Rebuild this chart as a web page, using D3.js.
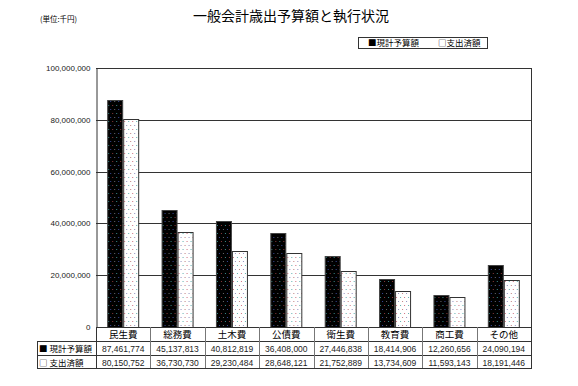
<!DOCTYPE html>
<html>
<head>
<meta charset="utf-8">
<script src="https://cdn.jsdelivr.net/npm/d3@7"></script>
<style>
  body { margin: 0; background: #fff; }
  svg { display: block; font-family: "Noto Sans CJK JP", "Liberation Sans", sans-serif; }
</style>
</head>
<body>
<div id="chart"></div>
<script>
// chart data
const categories = ['民生費', '総務費', '土木費', '公債費', '衛生費', '教育費', '商工費', 'その他'];
const seriesNames = ['現計予算額', '支出済額'];
const budget = [87461774, 45137813, 40812819, 36408000, 27446838, 18414906, 12260656, 24090194];
const spent = [80150752, 36730730, 29230484, 28648121, 21752889, 13734609, 11593143, 18191446];
const yTicks = [0, 20000000, 40000000, 60000000, 80000000, 100000000];

const W = 578, H = 386;
const plot = { left: 96, right: 531, top: 68, bottom: 327 };

const svg = d3.select('#chart').append('svg')
    .attr('width', W)
    .attr('height', H);

// dotted fills like the old spreadsheet bitmaps
const defs = svg.append('defs');
const darkPat = defs.append('pattern')
    .attr('id', 'pat-dark')
    .attr('patternUnits', 'userSpaceOnUse')
    .attr('width', 8).attr('height', 8);
darkPat.append('rect').attr('width', 8).attr('height', 8).attr('fill', '#000');
[[1, 1, '#3a8a8a'], [5, 1, '#8a3a3a'], [3, 5, '#3a4a9a'], [7, 5, '#6a6a6a']].forEach(([x, y, c]) => {
    darkPat.append('rect').attr('x', x).attr('y', y).attr('width', 1).attr('height', 1).attr('fill', c);
});
const lightPat = defs.append('pattern')
    .attr('id', 'pat-light')
    .attr('patternUnits', 'userSpaceOnUse')
    .attr('width', 8).attr('height', 8);
lightPat.append('rect').attr('width', 8).attr('height', 8).attr('fill', '#fff');
[[1, 1, '#d07080'], [5, 1, '#60b0b0'], [3, 5, '#9090c0'], [7, 5, '#c08080']].forEach(([x, y, c]) => {
    lightPat.append('rect').attr('x', x).attr('y', y).attr('width', 1).attr('height', 1).attr('fill', c);
});

// title + unit
svg.append('text')
    .attr('x', 291).attr('y', 21)
    .attr('text-anchor', 'middle')
    .attr('font-size', '14px')
    .attr('fill', '#000')
    .text('一般会計歳出予算額と執行状況');

svg.append('text')
    .attr('x', 40).attr('y', 22)
    .attr('font-size', '7.5px')
    .attr('fill', '#000')
    .text('(単位:千円)');

// scales
const x0 = d3.scaleBand()
    .domain(categories)
    .range([plot.left, plot.right]);

const x1 = d3.scaleBand()
    .domain(seriesNames)
    .range([0, 32]);

const y = d3.scaleLinear()
    .domain([0, 100000000])
    .range([plot.bottom, plot.top]);

// gridlines
svg.append('g')
    .selectAll('line')
    .data(yTicks.filter(d => d > 0))
    .join('line')
        .attr('x1', plot.left).attr('x2', plot.right)
        .attr('y1', d => Math.round(y(d)) + 0.5)
        .attr('y2', d => Math.round(y(d)) + 0.5)
        .attr('stroke', '#333')
        .attr('stroke-width', 1);

// y axis
const yAxis = svg.append('g')
    .attr('transform', `translate(${plot.left + 0.5},0)`)
    .call(d3.axisLeft(y).tickValues(yTicks).tickSize(0).tickPadding(6)
        .tickFormat(d3.format(',')));
yAxis.select('.domain').attr('stroke', '#333');
yAxis.selectAll('text')
    .attr('font-size', '8px')
    .attr('font-family', 'Liberation Sans, sans-serif')
    .attr('fill', '#222');

// right border
svg.append('line')
    .attr('x1', plot.right + 0.5).attr('x2', plot.right + 0.5)
    .attr('y1', plot.top).attr('y2', plot.bottom)
    .attr('stroke', '#333');

// bars
const groups = svg.append('g')
    .selectAll('g')
    .data(categories)
    .join('g')
        .attr('transform', d => `translate(${x0(d) + x0.bandwidth() / 2 - 16},0)`);

groups.selectAll('rect')
    .data((d, i) => [
        { key: seriesNames[0], value: budget[i] },
        { key: seriesNames[1], value: spent[i] }
    ])
    .join('rect')
        .attr('x', d => x1(d.key) + 0.5)
        .attr('y', d => Math.round(y(d.value)) + 0.5)
        .attr('width', x1.bandwidth() - 1)
        .attr('height', d => plot.bottom - Math.round(y(d.value)))
        .attr('fill', d => d.key === seriesNames[0] ? 'url(#pat-dark)' : 'url(#pat-light)')
        .attr('stroke', d => d.key === seriesNames[0] ? '#444' : '#333')
        .attr('stroke-width', 1);

// data table under the chart
const rowTops = [327, 341, 355, 368];
const labelLeft = 37;
const table = svg.append('g');

// horizontal rules
table.append('line')
    .attr('x1', plot.left).attr('x2', plot.right)
    .attr('y1', rowTops[0] + 0.5).attr('y2', rowTops[0] + 0.5)
    .attr('stroke', '#333');
rowTops.slice(1).forEach(t => {
    table.append('line')
        .attr('x1', labelLeft).attr('x2', plot.right)
        .attr('y1', t + 0.5).attr('y2', t + 0.5)
        .attr('stroke', '#333');
});

// vertical rules
table.append('line')
    .attr('x1', labelLeft + 0.5).attr('x2', labelLeft + 0.5)
    .attr('y1', rowTops[1]).attr('y2', rowTops[3])
    .attr('stroke', '#333');
categories.forEach((c, i) => {
    const xv = Math.round(x0(c)) + 0.5;
    table.append('line')
        .attr('x1', xv).attr('x2', xv)
        .attr('y1', rowTops[0]).attr('y2', rowTops[3])
        .attr('stroke', i === 0 ? '#333' : '#777');
});
table.append('line')
    .attr('x1', plot.right + 0.5).attr('x2', plot.right + 0.5)
    .attr('y1', rowTops[0]).attr('y2', rowTops[3] + 1)
    .attr('stroke', '#333');

// header cells
table.selectAll('.cat')
    .data(categories)
    .join('text')
        .attr('class', 'cat')
        .attr('x', d => x0(d) + x0.bandwidth() / 2)
        .attr('y', rowTops[0] + 11)
        .attr('text-anchor', 'middle')
        .attr('font-size', '9.5px')
        .attr('fill', '#000')
        .text(d => d);

// value rows
const fmt = d3.format(',');
[budget, spent].forEach((vals, r) => {
    table.append('text')
        .attr('x', labelLeft + 2)
        .attr('y', rowTops[r + 1] + 11)
        .attr('font-size', '8.5px')
        .attr('fill', '#000')
        .text((r === 0 ? '■ ' : '□ ') + seriesNames[r]);

    table.selectAll(`.val-${r}`)
        .data(vals)
        .join('text')
            .attr('class', `val-${r}`)
            .attr('x', (d, i) => x0(categories[i]) + x0.bandwidth() / 2)
            .attr('y', rowTops[r + 1] + 10.5)
            .attr('text-anchor', 'middle')
            .attr('font-size', '8.5px')
            .attr('font-family', 'Liberation Sans, sans-serif')
            .attr('fill', '#222')
            .text(d => fmt(d));
});

// legend box
const legend = svg.append('g');
legend.append('rect')
    .attr('x', 358.5).attr('y', 37.5)
    .attr('width', 129).attr('height', 11)
    .attr('fill', '#fff')
    .attr('stroke', '#333');
legend.append('text')
    .attr('x', 368).attr('y', 46)
    .attr('font-size', '8.5px')
    .attr('fill', '#000')
    .text('■' + seriesNames[0]);
legend.append('text')
    .attr('x', 438).attr('y', 46)
    .attr('font-size', '8.5px')
    .attr('fill', '#000')
    .text('□' + seriesNames[1]);
</script>
</body>
</html>
